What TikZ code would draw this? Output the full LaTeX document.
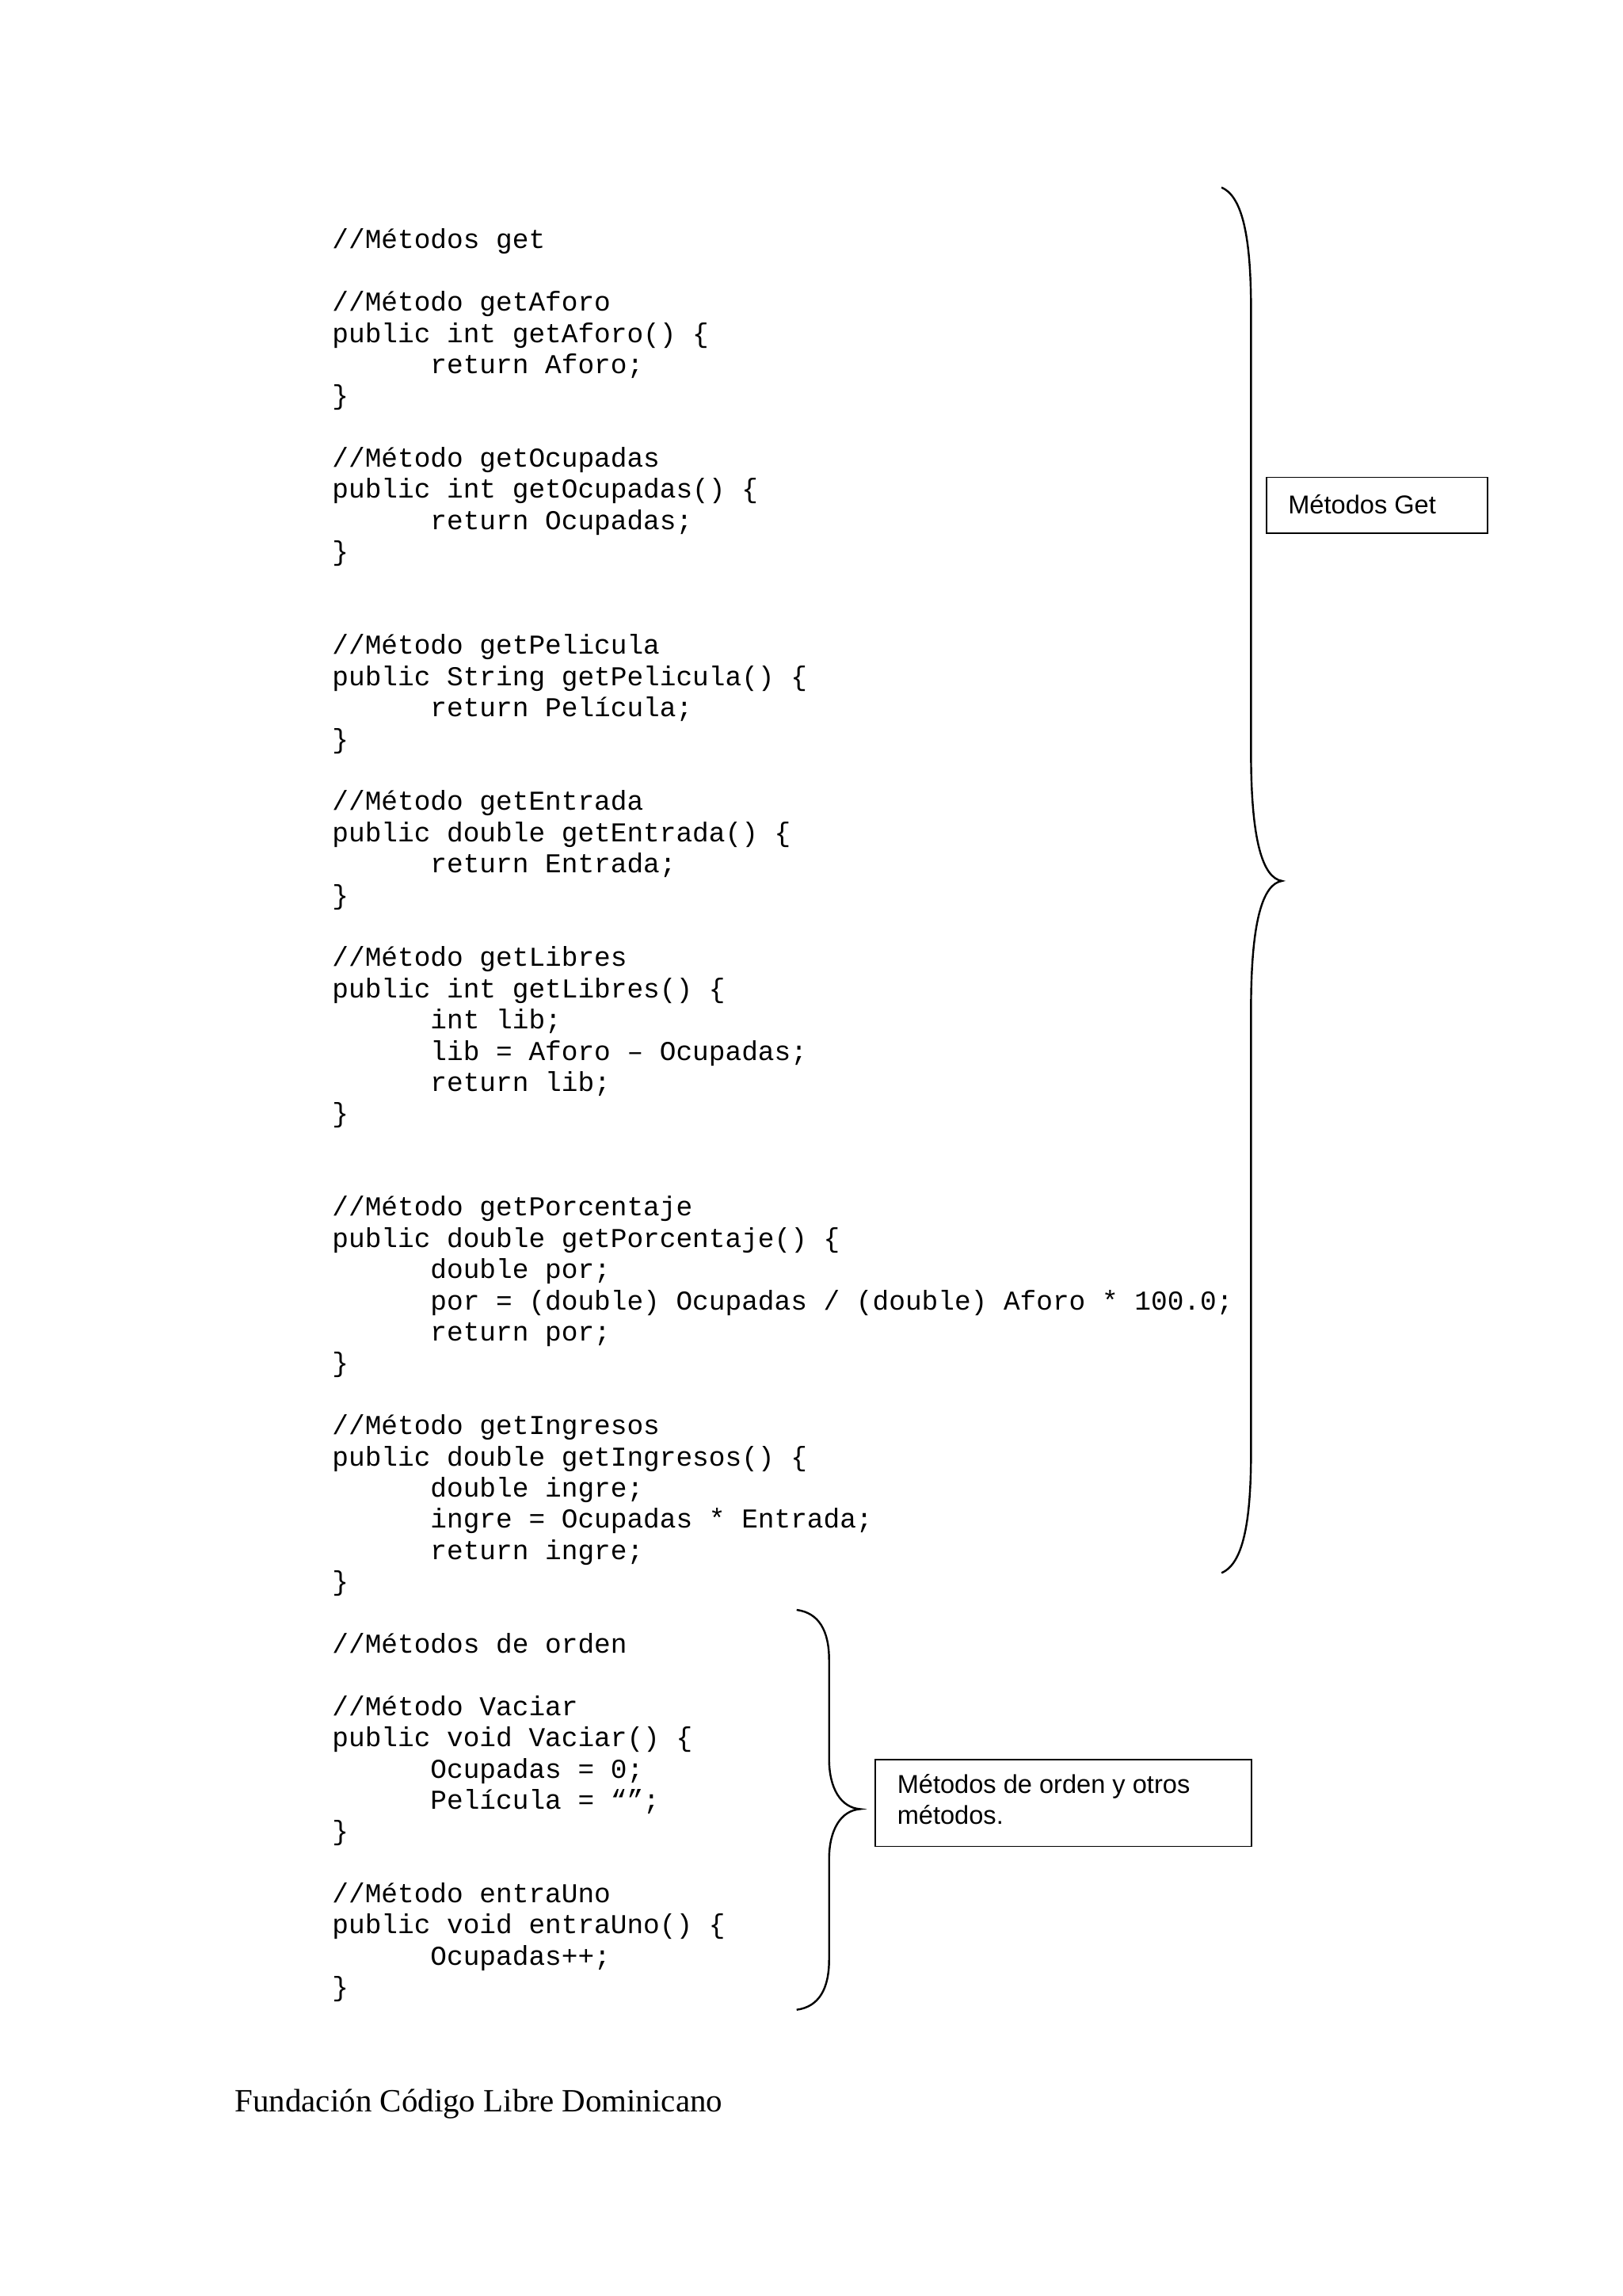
\documentclass[tikz,border=0pt]{standalone}
\usepackage{fontspec}
\setmainfont{Liberation Serif}
\newfontfamily\codefont{Liberation Mono}
\newfontfamily\boxfont{Liberation Sans}
\begin{document}
\begin{tikzpicture}[x=1pt,y=-1pt,
  code/.style={anchor=base west,inner sep=0pt,font=\codefont\fontsize{18.5}{21}\selectfont},
  lbl/.style={draw,line width=0.8pt,rectangle,inner sep=0pt},
  brace/.style={line width=1.3pt}]
\useasboundingbox (0,0) rectangle (1100,1556);
\def\ya{162}\def\dy{21.15}
\foreach \r/\ind/\t [count=\i] in {
0/0/{//Métodos get},
2/0/{//Método getAforo},
3/0/{public int getAforo() \{},
4/1/{return Aforo;},
5/0/{\}},
7/0/{//Método getOcupadas},
8/0/{public int getOcupadas() \{},
9/1/{return Ocupadas;},
10/0/{\}},
13/0/{//Método getPelicula},
14/0/{public String getPelicula() \{},
15/1/{return Película;},
16/0/{\}},
18/0/{//Método getEntrada},
19/0/{public double getEntrada() \{},
20/1/{return Entrada;},
21/0/{\}},
23/0/{//Método getLibres},
24/0/{public int getLibres() \{},
25/1/{int lib;},
26/1/{lib = Aforo – Ocupadas;},
27/1/{return lib;},
28/0/{\}},
31/0/{//Método getPorcentaje},
32/0/{public double getPorcentaje() \{},
33/1/{double por;},
34/1/{por = (double) Ocupadas / (double) Aforo * 100.0;},
35/1/{return por;},
36/0/{\}},
38/0/{//Método getIngresos},
39/0/{public double getIngresos() \{},
40/1/{double ingre;},
41/1/{ingre = Ocupadas * Entrada;},
42/1/{return ingre;},
43/0/{\}},
45/0/{//Métodos de orden},
47/0/{//Método Vaciar},
48/0/{public void Vaciar() \{},
49/1/{Ocupadas = 0;},
50/1/{Película = “”;},
51/0/{\}},
53/0/{//Método entraUno},
54/0/{public void entraUno() \{},
55/1/{Ocupadas++;},
56/0/{\}}}
  \node[code] (l\i) at ({225+66.6*\ind},{\ya+\dy*\r+6.5}) {\t};
\node[anchor=base west,inner sep=0pt,font=\fontsize{22}{26}\selectfont] (foot) at (159,1431) {Fundación Código Libre Dominicano};
% braces
\draw[brace] (828,127) .. controls (842,133) and (848,160) .. (848,210) -- (848,510)
  .. controls (848,570) and (856,595) .. (869,597)
  .. controls (856,599) and (848,624) .. (848,684) -- (848,984)
  .. controls (848,1034) and (842,1060) .. (828,1066);
\draw[brace] (540,1091) .. controls (555,1093) and (562,1105) .. (562,1125) -- (562,1192)
  .. controls (562,1212) and (570,1225) .. (583,1226)
  .. controls (570,1227) and (562,1240) .. (562,1260) -- (562,1328)
  .. controls (562,1348) and (555,1360) .. (540,1362);
% boxes
\node[lbl,minimum width=150,minimum height=38,anchor=north west] (b1) at (858,323) {};
\node[anchor=west,inner sep=0pt,font=\boxfont\fontsize{17.5}{21}\selectfont] (t1) at (873,342) {Métodos Get};
\node[lbl,minimum width=255,minimum height=59,anchor=north west] (b2) at (593,1192) {};
\node[anchor=north west,inner sep=0pt,align=left,font=\boxfont\fontsize{17.5}{21}\selectfont] (t2) at (608,1202) {Métodos de orden y otros\\métodos.};
\end{tikzpicture}
\end{document}
